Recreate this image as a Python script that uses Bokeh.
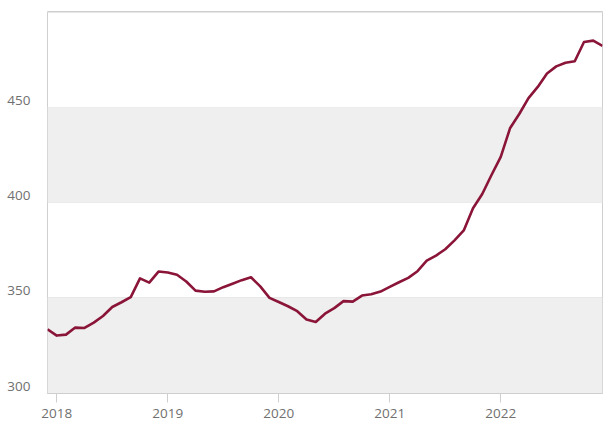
from bokeh.plotting import figure
from bokeh.models import Range1d, FixedTicker, BoxAnnotation, LinearAxis
from bokeh.embed import file_html
from bokeh.resources import INLINE
import pandas as pd

months = [d.strftime("%Y-%m") for d in pd.date_range("2017-12-01", "2022-12-01", freq="MS")]
values = [
    333.5,
    330.2, 330.7, 334.4, 334.2, 337.0, 340.5, 345.2, 347.7, 350.4, 360.2, 358.0, 363.8,
    363.3, 362.1, 358.6, 353.8, 353.2, 353.4, 355.6, 357.4, 359.3, 360.8, 356.0, 350.0,
    347.8, 345.6, 343.0, 338.6, 337.3, 341.7, 344.6, 348.3, 348.0, 351.2, 351.9, 353.3,
    355.8, 358.2, 360.5, 364.0, 369.5, 372.2, 375.5, 380.2, 385.4, 397.0, 404.5, 414.5,
    424.0, 439.0, 446.5, 454.8, 460.7, 467.8, 471.5, 473.4, 474.2, 484.3, 485.0, 482.2,
]
year_ticks = [2018, 2019, 2020, 2021, 2022]
y_ticks = [300, 350, 400, 450, 500]
y_label_ticks = [300, 350, 400, 450]
bands = [(300, 350), (400, 450)]

xs = [int(m[:4]) + (int(m[5:]) - 1) / 12 for m in months]

TEXT = "#707070"
FONT = "Open Sans"
Y0, Y1 = 299.8, 500.3
FRAME_H = 382
LABEL_LIFT = 7 * (Y1 - Y0) / FRAME_H  # labels sit slightly above their gridlines

p = figure(
    frame_width=555, frame_height=FRAME_H,
    output_backend="svg", toolbar_location=None,
    x_range=Range1d(xs[0], xs[-1]), y_range=Range1d(Y0, Y1),
    min_border_left=47, min_border_top=11, min_border_right=2, min_border_bottom=10,
)
p.extra_y_ranges = {"lab": Range1d(Y0 - LABEL_LIFT, Y1 - LABEL_LIFT)}
p.background_fill_color = "white"
p.border_fill_color = "white"
p.outline_line_color = "#cfcfcf"
p.outline_line_width = 1

for lo, hi in bands:
    p.add_layout(BoxAnnotation(bottom=lo, top=hi, fill_color="#efefef", fill_alpha=1.0,
                               line_color=None, level="underlay"))

p.xgrid.visible = False
p.ygrid.ticker = FixedTicker(ticks=y_ticks)
p.ygrid.grid_line_color = "#e6e6e6"
p.ygrid.grid_line_width = 1

p.line(xs, values, line_color="#8a1538", line_width=2.6, line_join="round")

xa = p.xaxis[0]
xa.ticker = FixedTicker(ticks=year_ticks)
xa.axis_line_color = "#cfcfcf"
xa.major_tick_line_color = "#cfcfcf"
xa.major_tick_out = 9
xa.major_tick_in = 0
xa.minor_tick_line_color = None
xa.major_label_text_color = TEXT
xa.major_label_text_font = FONT
xa.major_label_text_font_size = "13.5px"
xa.major_label_standoff = 6

p.yaxis[0].visible = False
ya = LinearAxis(y_range_name="lab", ticker=FixedTicker(ticks=y_label_ticks))
ya.axis_line_color = None
ya.major_tick_line_color = None
ya.minor_tick_line_color = None
ya.major_tick_out = 0
ya.major_tick_in = 0
ya.major_label_standoff = 17
ya.major_label_text_color = TEXT
ya.major_label_text_font = FONT
ya.major_label_text_font_size = "13.5px"
p.add_layout(ya, "left")

open("out.html", "w").write(file_html(p, INLINE))
